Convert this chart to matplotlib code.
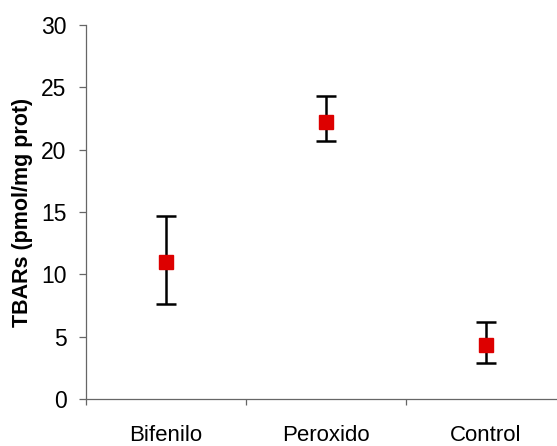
import numpy as np
import matplotlib.pyplot as plt

plt.rcParams['font.family'] = ['Liberation Sans', 'DejaVu Sans']

# data
groups = ['Bifenilo', 'Peroxido', 'Control']
tbars = [11.0, 22.2, 4.35]
err_low = [3.4, 1.5, 1.45]
err_high = [3.7, 2.1, 1.85]

fig = plt.figure(figsize=(5.57, 4.46), dpi=100)
ax = fig.add_axes([0.1544, 0.1054, 0.862, 0.8386])

x = np.arange(1, len(groups) + 1)
ax.errorbar(x, tbars, yerr=[err_low, err_high], fmt='s', color='#dd0000',
            markersize=10, ecolor='black', elinewidth=1.8, capsize=7,
            capthick=1.8, zorder=3)

ax.set_xlim(0.5, len(groups) + 0.5)
ax.set_ylim(0, 30)
ax.set_yticks(np.arange(0, 31, 5))
ax.tick_params(axis='y', labelsize=16.5, length=5, width=0.9, pad=9,
               color='#666666')

# category boundaries as ticks, names in between (Excel style)
ax.set_xticks(np.arange(0.5, len(groups) + 1, 1.0))
ax.set_xticklabels([])
ax.set_xticks(x, minor=True)
ax.set_xticklabels(groups, minor=True)
ax.tick_params(axis='x', which='major', length=4, width=0.9, color='#666666')
ax.tick_params(axis='x', which='minor', length=0, labelsize=16, pad=19)

ax.spines['top'].set_visible(False)
ax.spines['right'].set_visible(False)
for s in ['left', 'bottom']:
    ax.spines[s].set_color('#666666')
    ax.spines[s].set_linewidth(0.9)

ax.set_ylabel('TBARs (pmol/mg prot)', fontsize=15.5, fontweight='bold',
              labelpad=6)

fig.savefig('out.png', dpi=100)
